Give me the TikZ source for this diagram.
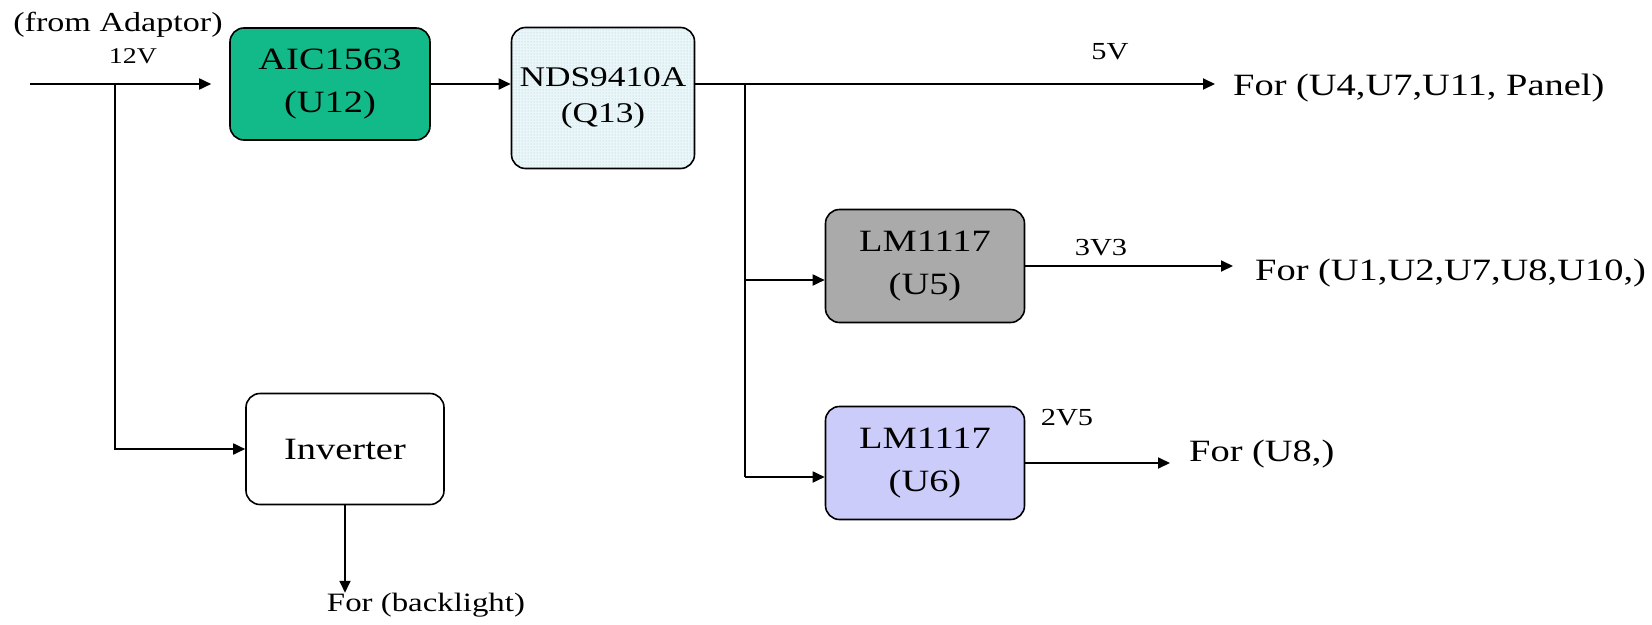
\documentclass[tikz,border=0pt]{standalone}
\usepackage{fontspec}
\setmainfont{Liberation Serif}[FakeStretch=1.24]
\usetikzlibrary{arrows.meta,patterns}

\definecolor{aicgreen}{RGB}{18,186,138}
\definecolor{ndsblue}{RGB}{234,247,250}
\definecolor{ndsdot}{RGB}{175,195,200}
\definecolor{ldogray}{RGB}{170,170,170}
\definecolor{ldoblue}{RGB}{204,204,250}

\begin{document}
\begin{tikzpicture}[x=1pt,y=-1pt,
  every node/.style={font=\fontsize{31}{43}\selectfont},
  regbox/.style={draw,line width=1.6pt,rounded corners=14pt,align=center,inner sep=0pt},
  wire/.style={line width=1.8pt},
  feed/.style={wire,-{Triangle[length=12pt,width=11pt]}},
  volt/.style={font=\fontsize{24.5}{28}\selectfont,inner sep=0pt},
  dest/.style={anchor=west,inner sep=0pt}]

\useasboundingbox (0,0) rectangle (1652,624);

% blocks
\node[regbox,fill=aicgreen,minimum width=200pt,minimum height=112pt] (aic) at (330,84) {AIC1563\\(U12)};
\node[regbox,preaction={fill=ndsblue},pattern=dots,pattern color=ndsdot,minimum width=183pt,minimum height=141pt,
  font=\fontsize{28.5}{36}\selectfont] (nds) at (603,98) {NDS9410A\\(Q13)};
\node[regbox,fill=ldogray,minimum width=199pt,minimum height=113pt] (ldoA) at (925,266) {LM1117\\(U5)};
\node[regbox,fill=ldoblue,minimum width=199pt,minimum height=113pt] (ldoB) at (925,463) {LM1117\\(U6)};
\node[regbox,fill=white,minimum width=198pt,minimum height=111pt] (inv) at (345,449) {Inverter};

% texts
\node[inner sep=0pt,font=\fontsize{27.5}{30}\selectfont] (from) at (118,25) {(from Adaptor)};
\node[volt,font=\fontsize{22.5}{26}\selectfont] (v12) at (133,56) {12V};
\node[volt] (v5) at (1110,52) {5V};
\node[volt] (v33) at (1101,248) {3V3};
\node[volt] (v25) at (1067,418) {2V5};
\node[dest] (out5) at (1233,88) {For (U4,U7,U11, Panel)};
\node[dest] (out33) at (1255,273) {For (U1,U2,U7,U8,U10,)};
\node[dest] (out25) at (1189,454) {For (U8,)};
\node[inner sep=0pt,font=\fontsize{26.5}{30}\selectfont] (bl) at (426,605) {For (backlight)};

% wiring
\coordinate (src) at (30,84);
\coordinate (j1) at (115,84);
\coordinate (j2) at (745,84);
\coordinate (tapA) at (745,280);
\coordinate (tapB) at (745,477);

\draw[feed,shorten >=18pt] (src) -- (aic.west);
\draw[feed] (j1) |- (inv.west);
\draw[feed] (inv.south) -- (inv.south |- bl.north);
\draw[feed] (aic.east) -- (aic.east -| nds.west);
\draw[feed,shorten >=18pt] (aic.east -| nds.east) -- (aic.east -| out5.west);
\draw[wire] (j2) -- (tapB);
\draw[feed] (tapA) -- (tapA -| ldoA.west);
\draw[feed] (tapB) -- (tapB -| ldoB.west);
\draw[feed,shorten >=22pt] (ldoA.east) -- (ldoA.east -| out33.west);
\draw[feed,shorten >=19pt] (ldoB.east) -- (ldoB.east -| out25.west);

\end{tikzpicture}
\end{document}
